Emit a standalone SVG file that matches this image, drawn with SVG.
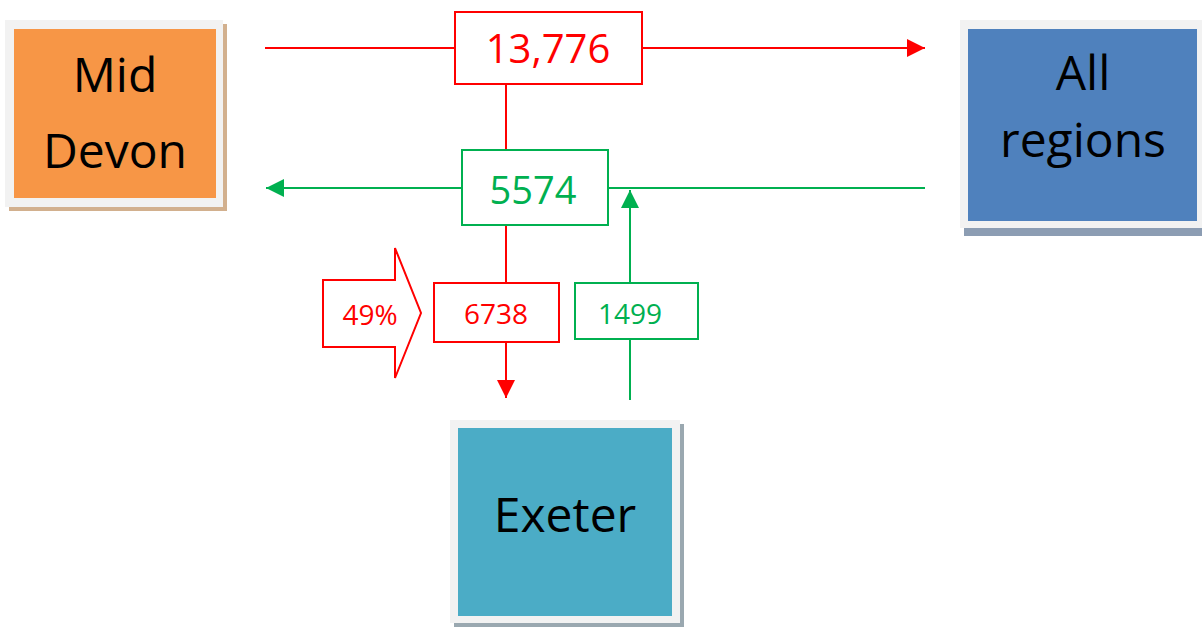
<svg xmlns="http://www.w3.org/2000/svg" width="1202" height="627" viewBox="0 0 1202 627">
<style>
.frame{fill:#f2f2f2}
.lbl{font-family:"Open Sans","DejaVu Sans",sans-serif;fill:#000;font-size:48px;text-anchor:middle}
.num{font-family:"Open Sans","DejaVu Sans",sans-serif;text-anchor:middle;dominant-baseline:central}
.r{fill:#ff0000}
.g{fill:#00b050}
.rbox{fill:#fff;stroke:#ff0000;stroke-width:2}
.gbox{fill:#fff;stroke:#00b050;stroke-width:2}
.rl{stroke:#ff0000;stroke-width:2;fill:none}
.gl{stroke:#00b050;stroke-width:2;fill:none}
</style>
<defs>
<marker id="ar" viewBox="0 0 10 10" refX="10" refY="5" markerWidth="9" markerHeight="9" markerUnits="userSpaceOnUse" orient="auto"><path d="M0,0 L10,5 L0,10 Z" fill="#ff0000"/></marker>
<marker id="ag" viewBox="0 0 10 10" refX="10" refY="5" markerWidth="9" markerHeight="9" markerUnits="userSpaceOnUse" orient="auto"><path d="M0,0 L10,5 L0,10 Z" fill="#00b050"/></marker>
<marker id="ar2" viewBox="0 0 10 10" refX="10" refY="5" markerWidth="18" markerHeight="18" markerUnits="userSpaceOnUse" orient="auto"><path d="M0,0 L10,5 L0,10 Z" fill="#ff0000"/></marker>
<marker id="ag2" viewBox="0 0 10 10" refX="10" refY="5" markerWidth="18" markerHeight="18" markerUnits="userSpaceOnUse" orient="auto"><path d="M0,0 L10,5 L0,10 Z" fill="#00b050"/></marker>
</defs>
<rect width="1202" height="627" fill="#fff"/>

<g id="connectors">
<line class="rl" x1="265" y1="48" x2="925" y2="48" marker-end="url(#ar2)"/>
<line class="rl" x1="506" y1="84" x2="506" y2="150"/>
<line class="rl" x1="506" y1="225" x2="506" y2="283"/>
<line class="rl" x1="506" y1="342" x2="506" y2="398" marker-end="url(#ar2)"/>
<line class="gl" x1="462" y1="188" x2="266" y2="188" marker-end="url(#ag2)"/>
<line class="gl" x1="925" y1="188" x2="608" y2="188"/>
<line class="gl" x1="630" y1="400" x2="630" y2="190" marker-end="url(#ag2)"/>
</g>

<g id="mid-devon">
<rect x="9" y="24" width="218" height="187" fill="#d2b08e"/>
<rect class="frame" x="5" y="20" width="218" height="187"/>
<rect x="14" y="29" width="202" height="169" fill="#f79646"/>
<text class="lbl" x="115" y="92">Mid</text>
<text class="lbl" x="115" y="168">Devon</text>
</g>

<g id="all-regions">
<rect x="964" y="24" width="240" height="212" fill="#8c9db3"/>
<rect class="frame" x="960" y="20" width="244" height="208"/>
<rect x="968" y="29" width="229" height="192" fill="#4f81bd"/>
<text class="lbl" x="1083" y="90">All</text>
<text class="lbl" x="1083" y="157">regions</text>
</g>

<g id="exeter">
<rect x="454" y="424" width="230" height="204" fill="#9aa8b0"/>
<rect class="frame" x="450" y="420" width="230" height="203"/>
<rect x="458" y="428" width="214" height="188" fill="#4bacc6"/>
<text class="lbl" x="565" y="532">Exeter</text>
</g>

<g id="box-13776">
<rect class="rbox" x="455" y="12" width="187" height="72"/>
<text class="num r" x="548" y="47" font-size="40">13,776</text>
</g>

<g id="box-5574">
<rect class="gbox" x="462" y="150" width="146" height="75"/>
<text class="num g" x="533" y="189" font-size="38">5574</text>
</g>

<g id="arrow-49">
<path d="M323,280 L395,280 L395,248 L421,313 L395,378 L395,347 L323,347 Z" fill="#fff" stroke="#ff0000" stroke-width="2"/>
<text class="num r" x="370" y="314" font-size="28">49%</text>
</g>

<g id="box-6738">
<rect class="rbox" x="434" y="283" width="125" height="59"/>
<text class="num r" x="496" y="313" font-size="28">6738</text>
</g>

<g id="box-1499">
<rect class="gbox" x="575" y="283" width="123" height="56"/>
<text class="num g" x="630" y="313" font-size="28">1499</text>
</g>
</svg>
